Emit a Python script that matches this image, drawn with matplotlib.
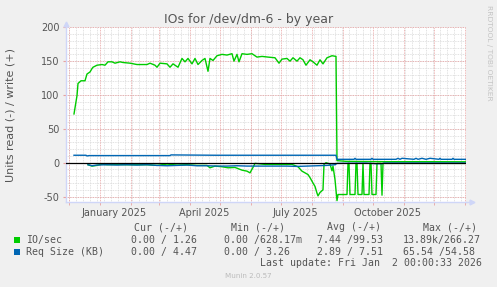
import numpy as np
import matplotlib
matplotlib.use('Agg')
import matplotlib.pyplot as plt
from matplotlib.patches import Rectangle

W, H = 497, 287

# time window (munin "by year" = last 400 days)
start = np.datetime64('2024-11-28')
end = np.datetime64('2026-01-02')

# IO/sec, write (+) side -- day offsets from start
io_w_days = [8, 11, 12, 15, 19, 21, 24, 26, 27, 31, 36, 39, 42, 46, 49, 54, 57, 64, 71, 81,
             84, 89, 91, 94, 101, 104, 107, 112, 116, 119, 122, 126, 129, 132, 136, 139, 142, 144,
             147, 151, 156, 161, 166, 168, 171, 173, 176, 181, 186, 191, 196, 202, 209, 213, 216,
             221, 224, 227, 231, 234, 237, 240, 244, 247, 251, 254, 257, 261, 266, 270, 271, 280,
             320, 360, 400]
io_w_vals = [72, 99, 117, 121, 121, 131, 134, 139, 141, 144, 145, 144, 149, 149, 147, 149, 148, 147, 145, 145,
             147, 144, 141, 147, 146, 141, 146, 141, 154, 149, 154, 146, 154, 145, 151, 154, 135, 154,
             151, 158, 160, 159, 161, 150, 160, 149, 161, 160, 161, 156, 157, 156, 155, 147, 153,
             154, 150, 155, 150, 155, 152, 144, 152, 149, 144, 152, 146, 155, 158, 157, 3, 2,
             1.5, 1.5, 1.3]

# IO/sec, read (-) side
io_r_days = [22, 26, 31, 36, 41, 51, 61, 71, 81, 91, 101, 111, 121, 131, 141, 144, 149, 156, 162, 169,
             176, 181, 184, 187, 189, 199, 212, 226, 232, 236, 239, 242, 244, 247, 249, 251, 252, 254,
             257, 258, 260, 264, 266, 267, 269, 271, 272, 281, 282, 283, 284, 289, 290, 291, 292, 296,
             297, 298, 303, 304, 305, 306, 310, 311, 315, 316, 317, 400]
io_r_vals = [-3, -5, -4, -2, -3, -2.5, -3, -3, -3, -4, -2, -3.5, -3, -4, -4, -7.5, -5, -6, -7.5, -7,
             -11, -12.5, -15, -7, -1, -2.5, -2.5, -2.5, -6, -12.5, -15, -17.5, -22, -30, -35, -45, -49, -44,
             -40, -2.5, 0, -2, -12, -5, -25, -56, -47, -47, -1, -1, -47, -47, -1, -1, -47, -47,
             -1, -47, -47, -1, -1, -47, -47, -1, -1, -48, -1, -1]

# Req Size (KB), write (+) side
rs_w_days = [8, 20, 21, 23, 104, 105, 150, 200, 270, 271, 288, 289, 290, 305, 306, 307, 330, 332, 334,
             336, 348, 350, 352, 356, 360, 364, 373, 374, 375, 386, 387, 388, 400]
rs_w_vals = [11, 11, 10, 10.5, 10.5, 11.5, 11, 11, 11, 5, 5, 6.5, 5, 5, 6.5, 5, 5, 6.5, 5,
             6.5, 5, 6.5, 5, 6.5, 5, 6.5, 5, 6.5, 5, 5, 6.5, 5, 5]

# Req Size (KB), read (-) side
rs_r_days = [22, 26, 31, 41, 51, 61, 71, 81, 91, 101, 111, 121, 131, 141, 151, 161, 171, 181, 191, 201,
             211, 221, 231, 241, 251, 261, 269, 271, 300, 310, 316, 318, 400]
rs_r_vals = [-3, -4.5, -3.5, -3, -3.5, -3, -3.5, -3, -4, -4.5, -4, -3.5, -4.5, -4.5, -5, -5, -4.5, -5, -5, -5,
             -5, -5, -5.5, -5, -4.5, -4, -3, -1, -0.5, -1.5, -1.5, -0.5, -0.5]

month_labels = ['January 2025', 'April 2025', 'July 2025', 'October 2025']
month_label_dates = ['2025-01-15', '2025-04-15', '2025-07-15', '2025-10-15']
yticks = [-50, 0, 50, 100, 150, 200]

legend_names = ['IO/sec', 'Req Size (KB)']
cur_vals = ['0.00 / 1.26', '0.00 / 4.47']
min_vals = ['0.00 /628.17m', '0.00 / 3.26']
avg_vals = ['7.44 /99.53', '2.89 / 7.51']
max_vals = ['13.89k/266.27', '65.54 /54.58']
last_update = 'Last update: Fri Jan  2 00:00:33 2026'

GREEN = '#00CC00'
BLUE = '#0066B3'
TXT = '#555555'
AXIS = '#CFD6F8'
MGRID = '#E8A0A0'
GRID = '#D8D8D8'


def dates(days):
    return start + np.array(days).astype('timedelta64[D]')


def fx(x):
    return x / W


def fy(y):
    return 1 - y / H


fig = plt.figure(figsize=(W / 100, H / 100), dpi=100, facecolor='#F0F0F0')
ax = fig.add_axes([fx(66), fy(202.3), (466 - 66) / W, (202.3 - 27.3) / H], facecolor='white')

ax.set_xlim(start, end)
ax.set_ylim(-58.5, 200)

# grid: weekly (sundays) + monthly, 10 units + 50 units
for d in np.arange(np.datetime64('2024-12-01'), end, 7):
    ax.axvline(d, color=GRID, lw=0.6, ls=(0, (1, 1)), zorder=1)
for v in range(-50, 201, 10):
    ax.axhline(v, color=GRID, lw=0.6, ls=(0, (1, 1)), zorder=1)
months = np.arange('2024-12', '2026-02', dtype='datetime64[M]').astype('datetime64[D]')
for d in months:
    ax.axvline(d, color=MGRID, lw=0.6, ls=(0, (1, 1)), zorder=1.5)
for v in yticks:
    ax.axhline(v, color=MGRID, lw=0.6, ls=(0, (1, 1)), zorder=1.5)

# data
ax.plot(dates(io_w_days), io_w_vals, color=GREEN, lw=1.0, zorder=3)
ax.plot(dates(io_r_days), io_r_vals, color=GREEN, lw=1.0, zorder=3)
ax.plot(dates(rs_w_days), rs_w_vals, color=BLUE, lw=1.0, zorder=3)
ax.plot(dates(rs_r_days), rs_r_vals, color=BLUE, lw=1.0, zorder=3)
ax.axhline(0, color='black', lw=0.9, zorder=4)

# ticks
ax.set_yticks(yticks)
ax.set_yticklabels([str(v) for v in yticks])
ax.tick_params(axis='y', length=2, color=MGRID, pad=2.5, labelsize=7, labelcolor=TXT)
ax.set_xticks([np.datetime64(d) for d in month_label_dates])
ax.set_xticklabels(month_labels)
ax.tick_params(axis='x', which='major', length=0, pad=4, labelsize=7, labelcolor=TXT)
ax.set_xticks(months, minor=True)
ax.tick_params(axis='x', which='minor', length=2, color=MGRID)

for s in ['top', 'right']:
    ax.spines[s].set_visible(False)
for s in ['left', 'bottom']:
    ax.spines[s].set_color(AXIS)
    ax.spines[s].set_linewidth(1)

# axis arrows
ax.plot([1, 1.012], [0, 0], color=AXIS, lw=1, transform=ax.transAxes, clip_on=False)
ax.plot([1.014], [0], marker='>', ms=3.5, color=AXIS, transform=ax.transAxes, clip_on=False)
ax.plot([0, 0], [1, 1.012], color=AXIS, lw=1, transform=ax.transAxes, clip_on=False)
ax.plot([0], [1.018], marker='^', ms=3.5, color=AXIS, transform=ax.transAxes, clip_on=False)

# texts
fig.text(0.5, fy(19), 'IOs for /dev/dm-6 - by year', ha='center', va='center', fontsize=9, color=TXT)
fig.text(fx(11), fy(115), 'Units read (-) / write (+)', rotation=90, ha='center', va='center',
         fontsize=8, color=TXT)
fig.text(fx(489), fy(5), 'RRDTOOL / TOBI OETIKER', rotation=270, ha='center', va='top',
         fontsize=5.4, color='#C4C4C4')

mono = dict(family='DejaVu Sans Mono', fontsize=7.1, color=TXT, va='center')
headers = ['Cur (-/+)', 'Min (-/+)', 'Avg (-/+)', 'Max (-/+)']
header_x = [134, 231, 327, 423]
for hx, h in zip(header_x, headers):
    fig.text(fx(hx), fy(227), h, ha='left', **mono)

col_start = [131, 224, 317, 403]
row_y = [240, 252]
colors = [GREEN, BLUE]
for i, name in enumerate(legend_names):
    fig.add_artist(Rectangle((fx(14), fy(row_y[i] + 3)), 6 / W, 6 / H, transform=fig.transFigure,
                             facecolor=colors[i], edgecolor='none'))
    fig.text(fx(26), fy(row_y[i]), name, ha='left', **mono)
    for j, vals in enumerate([cur_vals, min_vals, avg_vals, max_vals]):
        fig.text(fx(col_start[j]), fy(row_y[i]), vals[i], ha='left', **mono)

fig.text(fx(482), fy(263.5), last_update, ha='right', **mono)
fig.text(fx(248), fy(276), 'Munin 2.0.57', ha='center', va='center', fontsize=5.1, color='#BBBBBB')

fig.savefig('out.png', dpi=100, facecolor=fig.get_facecolor())
